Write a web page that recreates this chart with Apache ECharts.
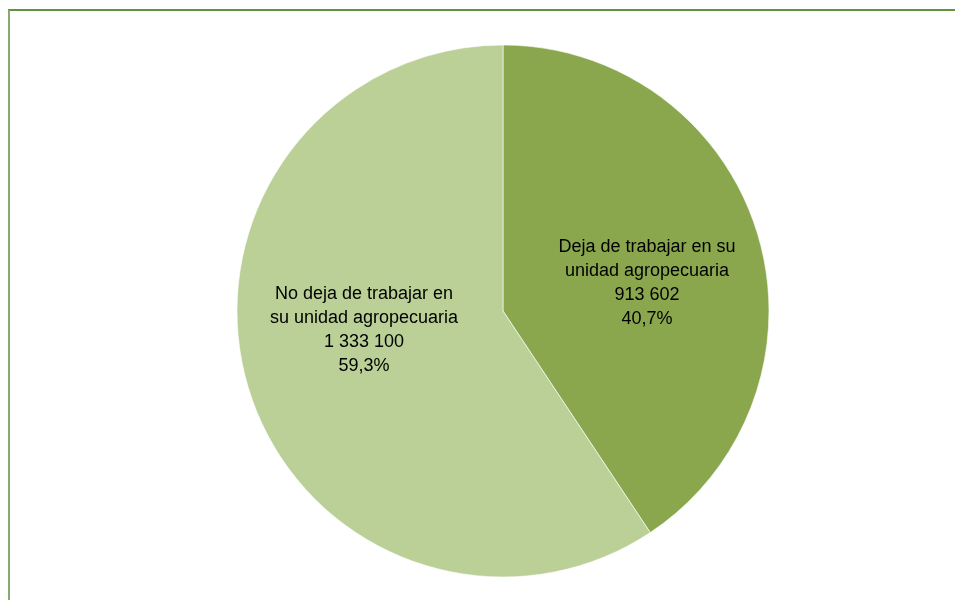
<!DOCTYPE html>
<html>
<head>
<meta charset="utf-8">
<script src="https://cdn.jsdelivr.net/npm/echarts@6/dist/echarts.min.js"></script>
<style>
  html, body { margin: 0; padding: 0; background: #ffffff; }
  #chart { width: 955px; height: 600px; }
</style>
</head>
<body>
<div id="chart"></div>
<script>
// Categories and values
const categories = [
  'Deja de trabajar en su\nunidad agropecuaria',
  'No deja de trabajar en\nsu unidad agropecuaria'
];
const values = [913602, 1333100];
const percents = ['40,7%', '59,3%'];
const colors = ['#8aa74e', '#bad097'];

// Label centres for each slice
const labelPos = [[647, 283], [364, 330]];

function fmtThousands(n) {
  return String(n).replace(/\B(?=(\d{3})+(?!\d))/g, ' ');
}

const chart = echarts.init(document.getElementById('chart'), null, { renderer: 'canvas' });

chart.setOption({
  animation: false,
  backgroundColor: '#ffffff',
  graphic: [
    { type: 'line', shape: { x1: 8, y1: 10, x2: 955, y2: 10 }, style: { stroke: '#5f9440', lineWidth: 2 } },
    { type: 'line', shape: { x1: 9, y1: 10, x2: 9, y2: 600 }, style: { stroke: '#86ab70', lineWidth: 2 } }
  ],
  series: [{
    type: 'pie',
    center: [503, 311],
    radius: [0, 266],
    startAngle: 90,
    clockwise: true,
    itemStyle: { borderColor: 'rgba(255,255,255,0.6)', borderWidth: 1 },
    label: {
      show: true,
      position: 'inside',
      color: '#000000',
      fontFamily: "'Liberation Sans Narrow', 'Arial Narrow', 'Liberation Sans', Arial, sans-serif",
      fontSize: 18,
      lineHeight: 24,
      align: 'center',
      formatter: p => p.name + '\n' + fmtThousands(p.value) + '\n' + percents[p.dataIndex]
    },
    labelLine: { show: false },
    labelLayout: p => ({ x: labelPos[p.dataIndex][0], y: labelPos[p.dataIndex][1], align: 'center', verticalAlign: 'middle' }),
    emphasis: { disabled: true },
    data: categories.map((c, i) => ({ name: c, value: values[i], itemStyle: { color: colors[i] } }))
  }]
});
</script>
</body>
</html>
